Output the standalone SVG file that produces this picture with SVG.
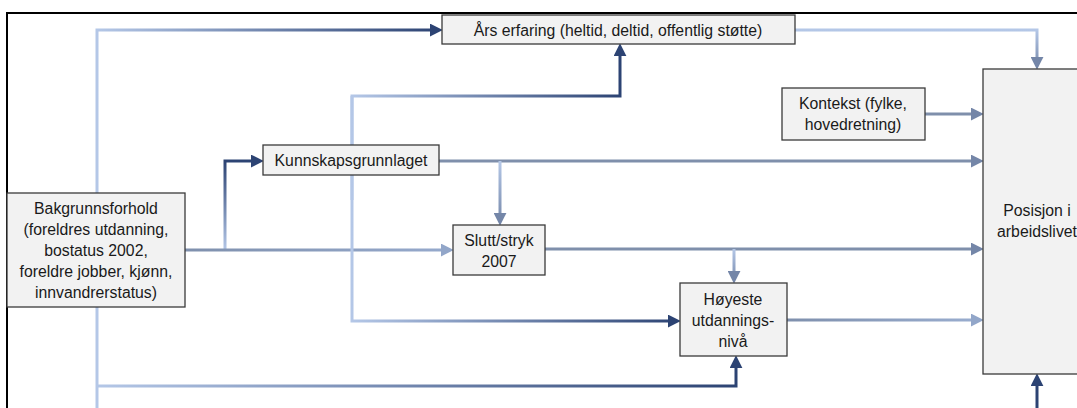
<svg xmlns="http://www.w3.org/2000/svg" width="1077" height="408" viewBox="0 0 1077 408">
<style>
.box{fill:#f2f2f2;stroke:#3a3a3a;stroke-width:1.3}
.t{font-family:"Liberation Sans",Arial,sans-serif;font-size:15.8px;fill:#1a1a1a;text-anchor:middle}
.c{fill:none;stroke-width:3}
</style>
<defs>
<marker id="aD" viewBox="0 0 12 12" refX="2" refY="6" markerWidth="13" markerHeight="13" markerUnits="userSpaceOnUse" orient="auto"><path d="M0,0 L12,6 L0,12 z" fill="#2c4373"/></marker>
<marker id="aM" viewBox="0 0 12 12" refX="2" refY="6" markerWidth="13" markerHeight="13" markerUnits="userSpaceOnUse" orient="auto"><path d="M0,0 L12,6 L0,12 z" fill="#7486a8"/></marker>
<marker id="aL" viewBox="0 0 12 12" refX="2" refY="6" markerWidth="13" markerHeight="13" markerUnits="userSpaceOnUse" orient="auto"><path d="M0,0 L12,6 L0,12 z" fill="#92a6c9"/></marker>
<linearGradient id="g1" gradientUnits="userSpaceOnUse" x1="97" y1="0" x2="440" y2="0"><stop offset="0" stop-color="#b4c7e7"/><stop offset="1" stop-color="#2c4373"/></linearGradient>
<linearGradient id="g2" gradientUnits="userSpaceOnUse" x1="0" y1="30" x2="0" y2="69"><stop offset="0" stop-color="#b4c7e7"/><stop offset="1" stop-color="#7486a8"/></linearGradient>
<linearGradient id="g3" gradientUnits="userSpaceOnUse" x1="0" y1="250" x2="0" y2="161"><stop offset="0" stop-color="#b4c7e7"/><stop offset="1" stop-color="#2c4373"/></linearGradient>
<linearGradient id="g4" gradientUnits="userSpaceOnUse" x1="186" y1="0" x2="453" y2="0"><stop offset="0" stop-color="#7f90ad"/><stop offset="1" stop-color="#96aacd"/></linearGradient>
<linearGradient id="g5" gradientUnits="userSpaceOnUse" x1="0" y1="161" x2="0" y2="225"><stop offset="0" stop-color="#b4c7e7"/><stop offset="1" stop-color="#7486a8"/></linearGradient>
<linearGradient id="g6" gradientUnits="userSpaceOnUse" x1="352" y1="0" x2="620" y2="0"><stop offset="0" stop-color="#b4c7e7"/><stop offset="1" stop-color="#2c4373"/></linearGradient>
<linearGradient id="g7" gradientUnits="userSpaceOnUse" x1="352" y1="0" x2="680" y2="0"><stop offset="0" stop-color="#b4c7e7"/><stop offset="1" stop-color="#2c4373"/></linearGradient>
<linearGradient id="g8" gradientUnits="userSpaceOnUse" x1="0" y1="249" x2="0" y2="283"><stop offset="0" stop-color="#b4c7e7"/><stop offset="1" stop-color="#7486a8"/></linearGradient>
<linearGradient id="g9" gradientUnits="userSpaceOnUse" x1="787" y1="0" x2="983" y2="0"><stop offset="0" stop-color="#7f90ad"/><stop offset="1" stop-color="#9aaed0"/></linearGradient>
<linearGradient id="g10" gradientUnits="userSpaceOnUse" x1="97" y1="0" x2="736" y2="0"><stop offset="0" stop-color="#b4c7e7"/><stop offset="1" stop-color="#2c4373"/></linearGradient>
</defs>
<rect width="1077" height="408" fill="#ffffff"/>
<path d="M7,408 V13 H1077" fill="none" stroke="#000" stroke-width="2"/>
<g id="connectors">
<path class="c" d="M97,193 V30 H432" stroke="url(#g1)" marker-end="url(#aD)"/>
<path class="c" d="M795,30 H1037 V59" stroke="url(#g2)" marker-end="url(#aM)"/>
<path class="c" d="M225,250 V161 H253" stroke="url(#g3)" marker-end="url(#aD)"/>
<path class="c" d="M185,250 H443" stroke="url(#g4)" marker-end="url(#aL)"/>
<path class="c" d="M439,161 H973" stroke="#7f8fab" marker-end="url(#aM)"/>
<path class="c" d="M500,161 V215" stroke="url(#g5)" marker-end="url(#aM)"/>
<path class="c" d="M352,200 V96 H620 V54" stroke="url(#g6)" marker-end="url(#aD)"/>
<path class="c" d="M352,96 V321 H670" stroke="url(#g7)" marker-end="url(#aD)"/>
<path class="c" d="M545,249 H973" stroke="#7f8fab" marker-end="url(#aM)"/>
<path class="c" d="M734,249 V273" stroke="url(#g8)" marker-end="url(#aM)"/>
<path class="c" d="M787,320 H973" stroke="url(#g9)" marker-end="url(#aL)"/>
<path class="c" d="M925,114 H973" stroke="#7f8fab" marker-end="url(#aM)"/>
<path class="c" d="M97,307 V410" stroke="#b4c7e7"/>
<path class="c" d="M97,386 H736 V366" stroke="url(#g10)" marker-end="url(#aD)"/>
<path class="c" d="M1037,410 V384" stroke="#2c4373" marker-end="url(#aD)"/>
</g>
<g id="node-ars">
<rect class="box" x="442" y="15" width="353" height="29"/>
<text class="t" x="618" y="35.5">Års erfaring (heltid, deltid, offentlig støtte)</text>
</g>
<g id="node-kontekst">
<rect class="box" x="782" y="88" width="143" height="52"/>
<text class="t" x="853" y="108.5">Kontekst (fylke,</text>
<text class="t" x="853" y="129.5">hovedretning)</text>
</g>
<g id="node-posisjon">
<rect class="box" x="983" y="69" width="110" height="305"/>
<text class="t" x="1037" y="215.5">Posisjon i</text>
<text class="t" x="1037" y="236.5">arbeidslivet</text>
</g>
<g id="node-kunnskap">
<rect class="box" x="263" y="145" width="176" height="30"/>
<text class="t" x="351" y="166">Kunnskapsgrunnlaget</text>
</g>
<g id="node-bakgrunn">
<rect class="box" x="7" y="193" width="178" height="114"/>
<text class="t" x="96" y="213.5">Bakgrunnsforhold</text>
<text class="t" x="96" y="234.5">(foreldres utdanning,</text>
<text class="t" x="96" y="255.5">bostatus 2002,</text>
<text class="t" x="96" y="276.5">foreldre jobber, kjønn,</text>
<text class="t" x="96" y="297.5">innvandrerstatus)</text>
</g>
<g id="node-slutt">
<rect class="box" x="453" y="225" width="92" height="50"/>
<text class="t" x="499" y="245.5">Slutt/stryk</text>
<text class="t" x="499" y="266.5">2007</text>
</g>
<g id="node-hoyeste">
<rect class="box" x="680" y="283" width="107" height="73"/>
<text class="t" x="733" y="304.5">Høyeste</text>
<text class="t" x="733" y="325.5">utdannings-</text>
<text class="t" x="733" y="346.5">nivå</text>
</g>
</svg>
